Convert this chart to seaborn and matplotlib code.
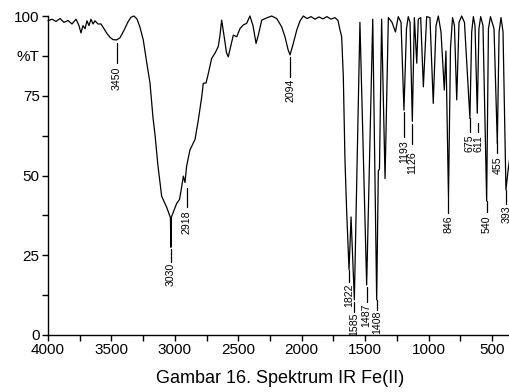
import matplotlib
matplotlib.use("Agg")
import matplotlib.pyplot as plt
import seaborn as sns
import pandas as pd

# ---- data ----
wavenumber = [4000, 3968, 3937, 3905, 3874, 3842, 3811, 3779, 3756, 3740, 3724, 3708,
              3693, 3677, 3661, 3645, 3630, 3606, 3582, 3559, 3535, 3511, 3488, 3458,
              3432, 3401, 3369, 3346, 3322, 3298, 3275, 3249, 3224, 3196, 3172, 3157,
              3133, 3104, 3064, 3035, 3031, 3027, 2985, 2963, 2948, 2933, 2920, 2907,
              2881, 2841, 2815, 2788, 2776, 2754, 2736, 2710, 2684, 2658, 2644, 2631,
              2613, 2593, 2579, 2557, 2539, 2512, 2486, 2460, 2434, 2408, 2384, 2360,
              2342, 2315, 2276, 2237, 2197, 2158, 2132, 2108, 2092, 2069, 2039, 2013,
              1987, 1958, 1927, 1895, 1864, 1832, 1801, 1769, 1738, 1714, 1698, 1685,
              1672, 1659, 1646, 1627, 1611, 1585, 1541, 1488, 1440, 1409, 1396, 1387,
              1370, 1343, 1317, 1288, 1261, 1239, 1217, 1194, 1174, 1160, 1146, 1128,
              1112, 1093, 1081, 1062, 1041, 1015, 989, 963, 941, 923, 902, 876,
              863, 843, 827, 811, 796, 778, 760, 739, 717, 674, 660, 647,
              634, 616, 603, 589, 571, 542, 528, 512, 484, 458, 444, 429,
              413, 390, 372, 358]
transmittance = [98.5, 99.0, 98.3, 99.2, 98.0, 98.6, 97.5, 99.0, 97.0, 94.7, 97.0, 96.0,
                 98.5, 97.0, 99.0, 97.5, 98.5, 97.5, 97.5, 96.0, 94.5, 93.3, 92.6, 92.5,
                 93.2, 95.5, 98.2, 99.6, 100.0, 99.0, 96.5, 92.5, 86.0, 79.0, 68.0, 63.0,
                 53.0, 43.5, 40.0, 36.8, 27.5, 37.0, 41.3, 42.5, 46.0, 49.8, 47.8, 53.0,
                 58.0, 61.3, 67.4, 74.7, 78.9, 79.0, 82.0, 86.7, 88.3, 90.4, 94.0, 98.7,
                 94.0, 88.5, 87.2, 91.0, 94.0, 93.5, 96.1, 97.2, 97.7, 100.0, 97.0, 91.4,
                 94.0, 98.7, 99.4, 100.0, 99.2, 96.6, 93.5, 89.5, 87.8, 91.0, 95.6, 98.5,
                 100.0, 99.2, 99.8, 99.0, 99.7, 99.1, 99.8, 99.0, 99.5, 98.6, 95.6, 93.5,
                 81.0, 55.0, 39.2, 20.5, 37.0, 11.0, 98.0, 15.7, 99.0, 11.0, 51.5, 52.0,
                 99.0, 49.0, 99.5, 98.0, 95.0, 99.8, 98.0, 70.5, 96.0, 99.8, 98.0, 67.0,
                 99.5, 85.2, 99.0, 99.5, 77.8, 99.8, 99.5, 72.6, 97.0, 100.0, 95.0, 76.8,
                 89.0, 43.0, 90.0, 99.5, 97.0, 73.7, 98.0, 100.0, 98.0, 67.9, 95.0, 99.8,
                 97.0, 69.5, 96.0, 99.8, 97.0, 42.0, 96.0, 99.8, 96.0, 60.0, 95.0, 99.5,
                 95.0, 45.5, 52.0, 56.0]

peak_labels = ["3450", "3030", "2918", "2094", "1822", "1585", "1487", "1408",
               "1193", "1126", "846", "675", "611", "540", "455", "393"]
peak_x = [3456, 3030, 2908, 2092, 1627, 1584, 1489, 1407,
          1194, 1127, 845, 673, 610, 539, 458, 386]

y_ticks = [0, 12.5, 25, 37.5, 50, 62.5, 75, 87.5, 100]
y_tick_labels = ["0", "", "25", "", "50", "", "75", "%T", "100"]
x_ticks = [4000, 3500, 3000, 2500, 2000, 1500, 1000, 500]
caption = "Gambar 16. Spektrum IR Fe(II)"

# ---- layout for the peak markers: (line top, line bottom, text top, text x shift) ----
marker_layout = [(91.5, 85.3, 84.0, 0), (27.0, 23.0, 22.5, 0), (46.0, 40.0, 39.0, 0),
                 (87.0, 81.0, 80.5, 0), (20.4, 16.6, 16.3, 0), (10.5, 7.3, 7.0, 0),
                 (15.0, 10.3, 10.0, 0), (11.0, 7.8, 7.5, 0), (70.0, 62.0, 61.0, 0),
                 (66.0, 60.0, 57.5, 0), (43.0, 38.3, 37.6, 0), (68.0, 63.5, 63.0, 6),
                 (66.5, 63.7, 62.7, -6), (42.0, 38.5, 37.6, 0), (61.0, 57.0, 56.0, 0),
                 (45.5, 41.0, 40.5, 0)]

sns.set_theme(style="ticks")
plt.rcParams["font.family"] = ["Liberation Sans", "DejaVu Sans"]

fig = plt.figure(figsize=(5.1, 3.92), dpi=100)
ax = fig.add_axes([48 / 510, 57 / 392, 462 / 510, 319 / 392])

df = pd.DataFrame({"wavenumber": wavenumber, "T": transmittance})
sns.lineplot(data=df, x="wavenumber", y="T", sort=False, color="black",
             linewidth=0.9, ax=ax, estimator=None)
for ln in ax.lines:
    ln.set_clip_on(False)

for lab, xv, (top, bot, ttop, dx) in zip(peak_labels, peak_x, marker_layout):
    ax.plot([xv, xv], [top, bot], color="black", lw=0.9, clip_on=False)
    ax.text(xv + dx, ttop, lab, rotation=90, ha="center", va="top", fontsize=7.6,
            color="black", clip_on=False)

ax.set_xlim(4000, 358)
ax.set_ylim(0, 100)
ax.set_xticks(x_ticks)
ax.set_xticks([3750, 3250, 2750, 2250, 1750, 1250, 750], minor=True)
ax.set_yticks(y_ticks)
ax.set_yticklabels(y_tick_labels)
ax.tick_params(axis="both", which="both", direction="out", length=4, width=1,
               labelsize=11, colors="black", pad=2)
ax.set_xlabel("")
ax.set_ylabel("")
sns.despine(ax=ax)
for s in ["left", "bottom"]:
    ax.spines[s].set_linewidth(1.0)
    ax.spines[s].set_color("black")

fig.text(0.549, 0.035, caption, ha="center", va="center", fontsize=13, color="black")

fig.savefig("out.png", dpi=100)
